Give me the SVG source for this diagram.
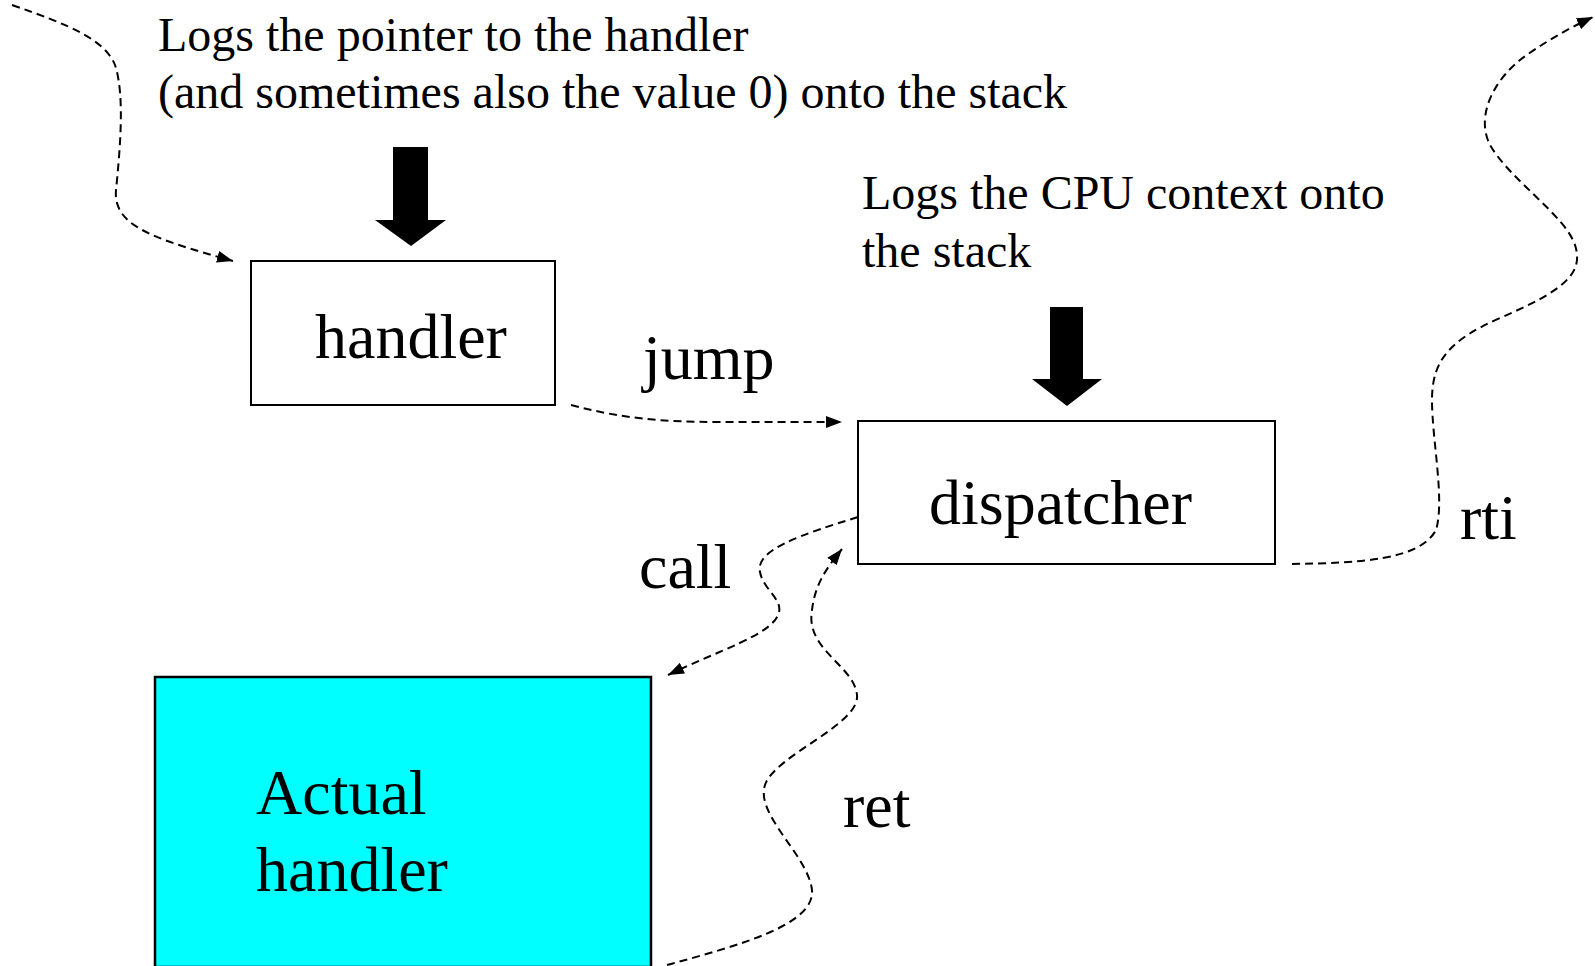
<svg xmlns="http://www.w3.org/2000/svg" width="1595" height="966" viewBox="0 0 1595 966">
<style>
.box{fill:#fff;stroke:#000;stroke-width:2}
.cyan{fill:#00ffff;stroke:#000;stroke-width:2.5}
.big{font-family:"Liberation Serif","Times New Roman",serif;font-size:64px;fill:#000}
.small{font-family:"Liberation Serif","Times New Roman",serif;font-size:48px;fill:#000}
.conn{fill:none;stroke:#000;stroke-width:2;stroke-dasharray:8 5;marker-end:url(#ah)}
.blk{fill:#000}
</style>
<defs>
<marker id="ah" markerUnits="userSpaceOnUse" markerWidth="18" markerHeight="14" refX="16" refY="6" orient="auto">
<path d="M0,0 L16,6 L0,12 Z" fill="#000"/>
</marker>
</defs>
<rect width="1595" height="966" fill="#fff"/>
<g id="note-handler">
<text class="small" x="158" y="51">Logs the pointer to the handler</text>
<text class="small" x="158" y="108">(and sometimes also the value 0) onto the stack</text>
<path class="blk" d="M393,147 H428 V220 H446 L411,246 L375,220 H393 Z"/>
</g>
<g id="note-dispatcher">
<text class="small" x="862" y="209">Logs the CPU context onto</text>
<text class="small" x="862" y="267">the stack</text>
<path class="blk" d="M1050,307 H1083 V379 H1102 L1067,406 L1032,379 H1050 Z"/>
</g>
<g id="handler">
<rect class="box" x="251" y="261" width="304" height="144"/>
<text class="big" x="315" y="358">handler</text>
</g>
<g id="dispatcher">
<rect class="box" x="858" y="421" width="417" height="143"/>
<text class="big" x="929" y="524">dispatcher</text>
</g>
<g id="actual-handler">
<rect class="cyan" x="155" y="677" width="496" height="290"/>
<text class="big" x="256" y="814">Actual</text>
<text class="big" x="256" y="891">handler</text>
</g>
<g id="connectors">
<path class="conn" d="M12,5 C70,25 105,40 115,65 C125,95 120,150 116,190 C113,225 150,238 233,261"/>
<path class="conn" d="M571,405 C620,418 660,422 720,422 L842,422"/>
<path class="conn" d="M858,517 C800,535 755,550 760,572 C763,590 785,600 778,615 C770,635 720,650 668,675"/>
<path class="conn" d="M667,965 C740,945 815,925 812,890 C808,855 755,815 765,785 C775,755 860,725 857,695 C854,665 805,650 812,610 C815,585 825,570 842,549"/>
<path class="conn" d="M1292,564 C1360,563 1420,560 1436,530 C1445,500 1432,440 1432,400 C1432,360 1450,340 1500,318 C1560,292 1585,275 1575,245 C1565,215 1510,180 1490,145 C1475,115 1495,80 1520,60 C1540,45 1565,30 1593,17"/>
<text class="big" x="643" y="379">jump</text>
<text class="big" x="639" y="588">call</text>
<text class="big" x="843" y="827">ret</text>
<text class="big" x="1460" y="539">rti</text>
</g>
</svg>
